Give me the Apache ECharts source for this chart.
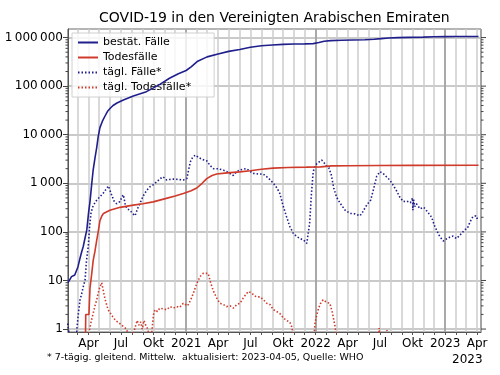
<!DOCTYPE html>
<html><head><meta charset="utf-8">
<script src="https://cdn.jsdelivr.net/npm/echarts@6/dist/echarts.min.js"></script>
<style>html,body{margin:0;padding:0;background:#fff}#c{width:500px;height:375px}</style>
</head><body><div id="c"></div>
<script>
const titleText = 'COVID-19 in den Vereinigten Arabischen Emiraten';
const seriesNames = ['bestät. Fälle', 'Todesfälle', 'tägl. Fälle*', 'tägl. Todesfälle*'];
const monthNames = ['Jan','Feb','Mär','Apr','Mai','Jun','Jul','Aug','Sep','Okt','Nov','Dez'];
const yTickValues = [1, 10, 100, 1000, 10000, 100000, 1000000];
const footnote = '* 7-tägig. gleitend. Mittelw.  aktualisiert: 2023-04-05, Quelle: WHO';

const casesCum = [
['2020-02-03',9],['2020-02-13',12],['2020-02-22',13],['2020-03-02',19],['2020-03-08',29],['2020-03-13',40],
['2020-03-17',50],['2020-03-22',75],['2020-03-27',110],['2020-04-01',250],['2020-04-05',420],['2020-04-10',1000],
['2020-04-14',1900],['2020-04-19',3300],['2020-04-24',5500],['2020-04-28',9000],['2020-05-03',14000],['2020-05-10',19000],
['2020-05-17',24000],['2020-05-24',30000],['2020-06-01',35000],['2020-06-09',40000],['2020-06-20',45000],['2020-07-08',52000],
['2020-08-05',63000],['2020-09-11',77000],['2020-10-01',92000],['2020-10-20',110000],['2020-11-15',145000],['2020-12-10',180000],
['2021-01-01',210000],['2021-01-15',250000],['2021-02-01',320000],['2021-03-01',400000],['2021-04-01',460000],['2021-05-01',520000],
['2021-06-01',570000],['2021-07-01',630000],['2021-08-01',680000],['2021-09-01',705000],['2021-10-01',725000],['2021-11-01',735000],
['2021-12-01',740000],['2021-12-25',750000],['2022-01-10',790000],['2022-01-25',840000],['2022-02-12',865000],['2022-03-15',880000],
['2022-04-15',890000],['2022-05-20',900000],['2022-06-15',920000],['2022-07-05',950000],['2022-07-25',980000],['2022-08-20',995000],
['2022-09-20',1010000],['2022-10-31',1020000],['2022-12-01',1040000],['2023-01-01',1045000],['2023-02-01',1050000],['2023-03-01',1053000],
['2023-04-05',1055000]
];
const deathsCum = [
['2020-03-23',0.5],['2020-03-24',2],['2020-04-02',2],['2020-04-05',7],['2020-04-10',14],['2020-04-14',26],['2020-04-19',40],
['2020-04-24',68],['2020-04-29',110],['2020-05-03',170],['2020-05-08',210],['2020-05-13',240],['2020-05-31',280],['2020-06-29',320],
['2020-08-05',355],['2020-09-01',380],['2020-09-30',415],['2020-11-06',490],['2020-12-01',550],['2020-12-24',620],['2021-01-15',700],
['2021-01-31',800],['2021-02-15',1000],['2021-02-28',1250],['2021-03-15',1450],['2021-03-28',1550],['2021-04-20',1620],['2021-05-14',1680],
['2021-06-01',1720],['2021-07-01',1820],['2021-08-01',1950],['2021-09-03',2050],['2021-10-15',2120],['2021-12-06',2150],['2022-01-15',2180],
['2022-02-15',2280],['2022-04-01',2300],['2022-07-01',2320],['2022-10-01',2345],['2023-04-05',2349]
];
const casesDaily = [
['2020-02-02',1.3],['2020-02-05',0.9],['2020-02-08',0.3],['2020-02-25',0.3],['2020-02-28',1.0],['2020-03-03',2],['2020-03-08',4],
['2020-03-13',5.5],['2020-03-18',8],['2020-03-22',10],['2020-03-26',25],['2020-03-31',50],['2020-04-04',130],['2020-04-08',250],
['2020-04-13',330],['2020-04-19',400],['2020-04-25',460],['2020-05-03',530],['2020-05-12',620],['2020-05-20',750],['2020-05-27',880],
['2020-06-04',600],['2020-06-12',430],['2020-06-19',380],['2020-06-28',420],['2020-07-04',520],['2020-07-08',580],['2020-07-13',380],
['2020-07-18',300],['2020-07-26',280],['2020-08-03',240],['2020-08-10',215],['2020-08-17',300],['2020-08-24',390],['2020-09-02',550],
['2020-09-12',720],['2020-09-21',850],['2020-09-30',930],['2020-10-10',1070],['2020-10-20',1250],['2020-10-28',1360],['2020-11-07',1170],
['2020-11-16',1200],['2020-11-26',1220],['2020-12-10',1200],['2020-12-24',1170],['2021-01-03',1250],['2021-01-08',1900],['2021-01-13',2800],
['2021-01-20',3500],['2021-01-27',3800],['2021-02-05',3400],['2021-02-15',3100],['2021-02-28',2900],['2021-03-10',2300],['2021-03-19',2000],
['2021-04-01',2000],['2021-04-16',1870],['2021-05-01',1650],['2021-05-14',1450],['2021-05-22',1700],['2021-06-02',1900],['2021-06-20',2000],
['2021-07-01',1750],['2021-07-09',1600],['2021-07-25',1550],['2021-08-06',1550],['2021-08-20',1300],['2021-09-04',1000],['2021-09-14',800],
['2021-09-22',620],['2021-10-01',350],['2021-10-11',205],['2021-10-20',130],['2021-10-30',93],['2021-11-09',80],['2021-11-18',73],
['2021-11-28',68],['2021-12-07',58],['2021-12-11',60],['2021-12-15',150],['2021-12-20',600],['2021-12-25',1700],['2021-12-30',2300],
['2022-01-06',2600],['2022-01-12',2800],['2022-01-18',3000],['2022-01-24',2700],['2022-01-31',2300],['2022-02-07',2100],['2022-02-14',1500],
['2022-02-21',800],['2022-03-01',520],['2022-03-11',390],['2022-03-25',280],['2022-04-08',240],['2022-04-22',235],['2022-05-06',215],
['2022-05-14',260],['2022-05-22',330],['2022-05-29',390],['2022-06-05',450],['2022-06-14',800],['2022-06-22',1400],['2022-07-01',1730],
['2022-07-10',1600],['2022-07-20',1350],['2022-07-29',1170],['2022-08-08',900],['2022-08-17',700],['2022-08-26',520],['2022-09-05',420],
['2022-09-15',430],['2022-09-25',400],['2022-09-29',430],['2022-10-01',500],['2022-10-02',280],['2022-10-04',460],['2022-10-07',330],
['2022-10-12',380],['2022-10-22',300],['2022-11-02',320],['2022-11-12',260],['2022-11-24',200],['2022-12-01',140],['2022-12-08',108],
['2022-12-17',80],['2022-12-27',65],['2023-01-05',72],['2023-01-14',78],['2023-01-23',82],['2023-02-02',73],['2023-02-11',85],
['2023-02-20',100],['2023-02-25',110],['2023-03-05',120],['2023-03-12',160],['2023-03-20',205],['2023-03-29',215],['2023-04-03',175]
];
const deathsDaily = [
['2020-03-30',0.3],['2020-04-04',1],['2020-04-09',1.5],['2020-04-14',2.1],['2020-04-19',3],['2020-04-24',4],['2020-04-28',5.5],
['2020-05-03',7.4],['2020-05-08',9],['2020-05-11',9.8],['2020-05-15',5],['2020-05-18',4],['2020-05-26',2.5],['2020-06-08',1.8],
['2020-06-16',1.5],['2020-06-28',1.3],['2020-07-10',1.1],['2020-07-17',1],['2020-07-26',0.6],['2020-08-05',0.8],['2020-08-16',1.5],
['2020-08-21',1.2],['2020-08-26',1.4],['2020-08-30',1],['2020-09-04',1.5],['2020-09-09',1.2],['2020-09-15',1],['2020-09-20',0.6],
['2020-09-25',0.7],['2020-10-01',2],['2020-10-05',2.5],['2020-10-12',2.3],['2020-10-19',2.7],['2020-10-28',2.6],['2020-11-07',2.5],
['2020-11-17',2.9],['2020-11-26',2.7],['2020-12-05',2.9],['2020-12-14',2.8],['2020-12-24',3.4],['2021-01-05',3],['2021-01-14',4],
['2021-01-21',5.4],['2021-01-31',8.7],['2021-02-09',12],['2021-02-18',14],['2021-02-23',15],['2021-03-04',14],['2021-03-11',9],
['2021-03-18',6.3],['2021-03-27',4.5],['2021-04-06',3.4],['2021-04-16',3.2],['2021-04-25',2.9],['2021-05-05',3],['2021-05-14',2.7],
['2021-05-24',3.2],['2021-06-02',3.4],['2021-06-12',4.5],['2021-06-25',5.9],['2021-07-05',5.5],['2021-07-13',4.8],['2021-07-19',4.6],
['2021-07-28',4.6],['2021-08-07',4],['2021-08-16',3.4],['2021-08-25',3.2],['2021-09-04',2.5],['2021-09-13',2.3],['2021-09-22',2.1],
['2021-10-02',1.7],['2021-10-11',1.5],['2021-10-20',1.4],['2021-10-26',1.1],['2021-10-30',0.7],['2021-11-05',0.3],['2021-12-24',0.3],
['2021-12-30',1.3],['2022-01-03',1.8],['2022-01-08',2.5],['2022-01-14',3.3],['2022-01-22',4],['2022-01-27',3.8],['2022-02-02',3.5],
['2022-02-10',3.4],['2022-02-17',2.2],['2022-02-24',1.2],['2022-03-01',0.7],['2022-03-06',0.3],['2022-06-25',0.3],['2022-06-29',1.05],
['2022-07-02',1.0],['2022-07-05',0.3],['2022-07-18',0.3],['2022-07-21',0.95],['2022-07-24',0.3]
];

const X_MIN = +new Date(2020, 1, 3);
const X_MAX = +new Date(2023, 3, 12);
const Y_MIN = 0.87, Y_MAX = 1.5e6;
const DAY = 86400000;
const FONT = 'DejaVu Sans';
const BLUE = '#1f1f8c', RED = '#d03a2a';

const minorTicks = [];
for (let k = 0; k <= 6; k++) {
  for (let m = 1; m <= 9; m++) {
    const v = m * Math.pow(10, k);
    if (v <= Y_MAX) minorTicks.push([X_MAX, v, m === 1 ? 1 : 0]);
  }
}

function fmtNum(v) {
  return String(Math.round(v)).replace(/\B(?=(\d{3})+(?!\d))/g, '\u2009');
}

const chart = echarts.init(document.getElementById('c'), null, {renderer: 'canvas'});
chart.setOption({
  animation: false,
  textStyle: {fontFamily: FONT},
  title: {text: titleText, left: 94, top: 6, textStyle: {fontSize: 14, fontWeight: 'normal', color: '#000', fontFamily: FONT}},
  grid: {left: 68, right: 19, top: 29, bottom: 43, show: true, borderColor: '#555', borderWidth: 1, containLabel: false},
  legend: {
    data: seriesNames, orient: 'vertical', left: 72, top: 33, padding: [4, 23, 4, 5], itemGap: 4,
    itemWidth: 20, itemHeight: 12, backgroundColor: 'rgba(255,255,255,0.8)', borderColor: '#d0d0d0', borderWidth: 1,
    itemStyle: {color: 'transparent', borderColor: 'transparent', borderWidth: 0, opacity: 0},
    textStyle: {fontSize: 11, color: '#000', fontFamily: FONT}
  },
  xAxis: [{
    type: 'time', min: X_MIN, max: X_MAX, minInterval: 28 * DAY, maxInterval: 31 * DAY,
    axisLine: {show: true, lineStyle: {color: '#555'}},
    axisTick: {show: true, length: 3, inside: false, lineStyle: {color: '#555'}},
    splitLine: {show: true, lineStyle: {color: '#cdcdcd', width: 1.5}},
    axisLabel: {
      show: true, margin: 6, fontSize: 12, color: '#000', fontFamily: FONT, showMinLabel: false, showMaxLabel: false,
      hideOverlap: false,
      formatter: function (val) {
        const d = new Date(val);
        if (d.getDate() !== 1) return '';
        const m = d.getMonth();
        if (m === 0) return String(d.getFullYear());
        if (m === 3 || m === 6 || m === 9) return monthNames[m];
        return '';
      }
    }
  }, {
    type: 'time', min: X_MIN, max: X_MAX, minInterval: 366 * DAY, position: 'top',
    axisLine: {show: false}, axisTick: {show: false}, axisLabel: {show: false},
    splitLine: {show: true, lineStyle: {color: '#9a9a9a', width: 1.5}}
  }],
  yAxis: {
    type: 'log', logBase: 10, min: Y_MIN, max: Y_MAX,
    axisLine: {show: true, lineStyle: {color: '#555'}},
    axisTick: {show: true, length: 5, lineStyle: {color: '#444'}},
    splitLine: {show: true, lineStyle: {color: '#b8b8b8', width: 1.5}},
    axisLabel: {
      fontSize: 12, color: '#000', margin: 5, fontFamily: FONT, showMinLabel: false, showMaxLabel: false,
      formatter: function (v) {
        const r = Math.round(Math.log10(v));
        if (Math.abs(Math.log10(v) - r) > 1e-6) return '';
        return fmtNum(v);
      }
    }
  },
  graphic: [
    {type: 'text', left: 47, top: 353, style: {text: footnote, fontSize: 9.5, fontFamily: FONT, fill: '#000'}},
    {type: 'text', left: 452, top: 354, style: {text: '2023', fontSize: 12, fontFamily: FONT, fill: '#000'}}
  ],
  series: [
    {name: seriesNames[0], type: 'line', data: casesCum, showSymbol: false, symbol: 'none', lineStyle: {color: BLUE, width: 1.6}, itemStyle: {color: BLUE}, z: 4},
    {name: seriesNames[1], type: 'line', data: deathsCum, showSymbol: false, symbol: 'none', lineStyle: {color: RED, width: 1.6}, itemStyle: {color: RED}, z: 4},
    {name: seriesNames[2], type: 'line', data: casesDaily, showSymbol: false, symbol: 'none', lineStyle: {color: BLUE, width: 1.6, type: [1.5, 2]}, itemStyle: {color: BLUE}, z: 3},
    {name: seriesNames[3], type: 'line', data: deathsDaily, showSymbol: false, symbol: 'none', lineStyle: {color: RED, width: 1.6, type: [1.5, 2]}, itemStyle: {color: RED}, z: 3},
    {
      type: 'custom', data: minorTicks, silent: true, z: 5, clip: false,
      renderItem: function (params, api) {
        const p = api.coord([api.value(0), api.value(1)]);
        const cs = params.coordSys;
        const major = api.value(2) === 1;
        const x0 = cs.x, x1 = cs.x + cs.width;
        const children = [];
        const st = {stroke: '#444', lineWidth: 1};
        if (!major) children.push({type: 'line', shape: {x1: x0 - 2.5, y1: p[1], x2: x0, y2: p[1]}, style: st});
        children.push({type: 'line', shape: {x1: x1, y1: p[1], x2: x1 + (major ? 5 : 2.5), y2: p[1]}, style: st});
        return {type: 'group', children: children};
      }
    }
  ]
});
</script></body></html>
